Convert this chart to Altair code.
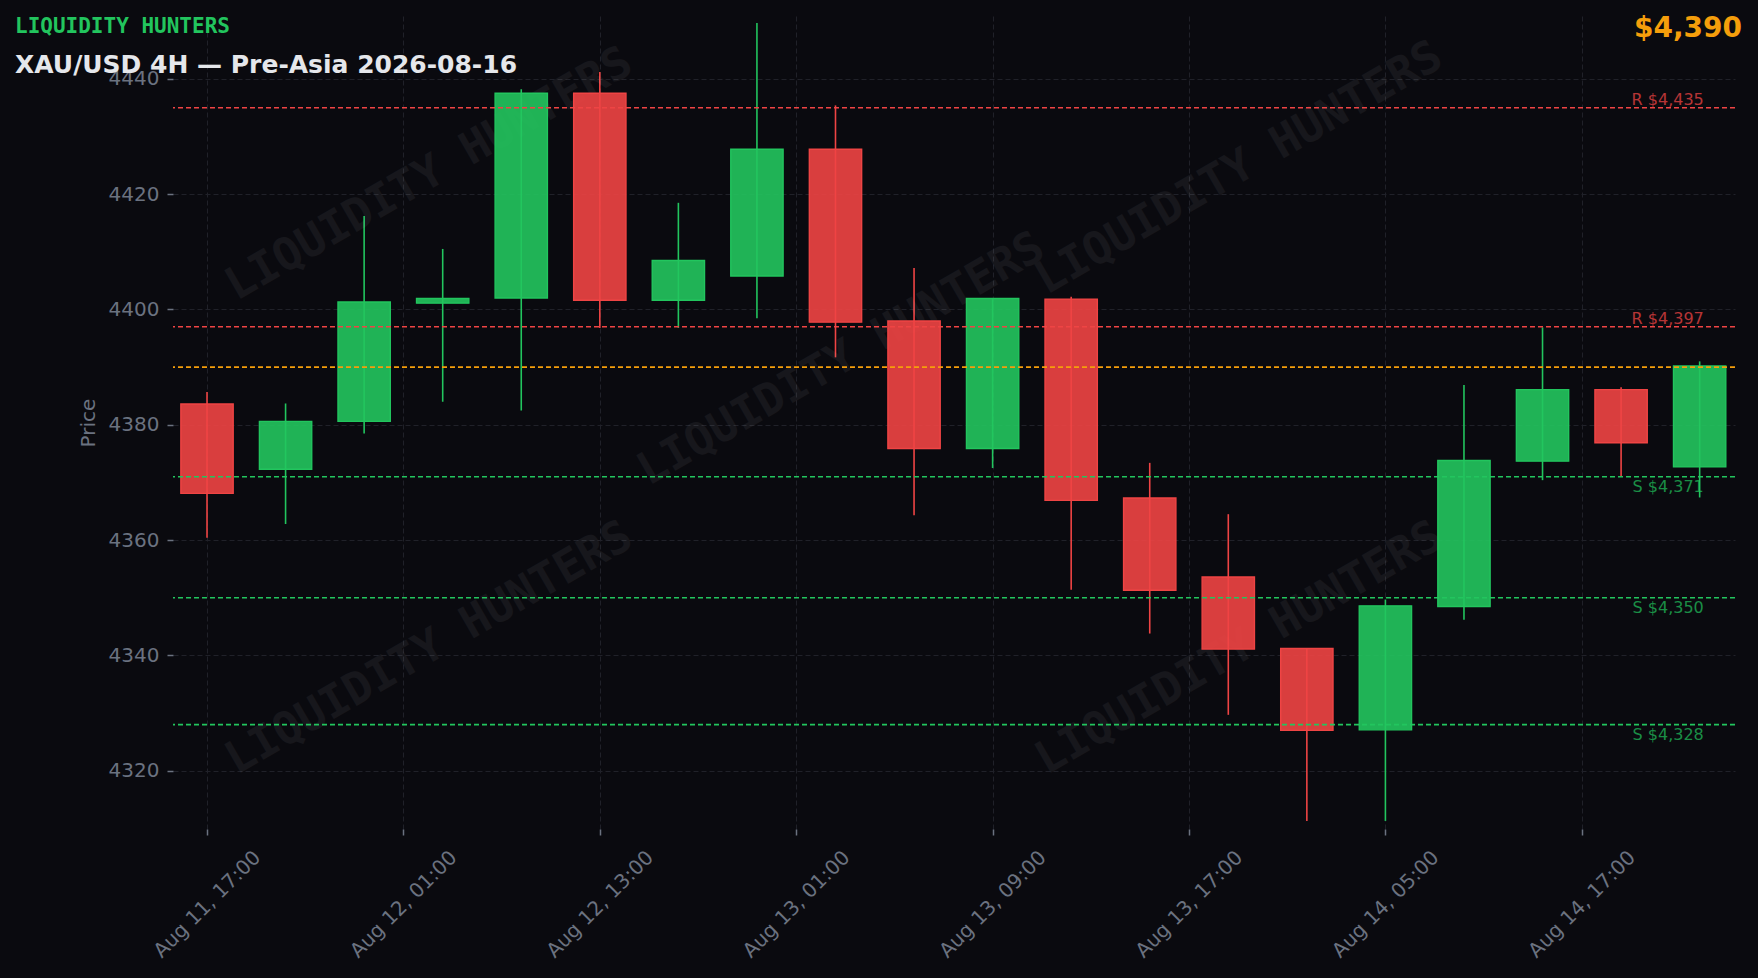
import json
import altair as alt
import jinja2
import pandas as pd

# ---------------- data ----------------
opens = [4383.6, 4372.3, 4380.6, 4401.1, 4402.0, 4437.5, 4401.6, 4405.8, 4427.8, 4398.0,
         4375.9, 4401.8, 4367.3, 4353.6, 4341.2, 4327.1, 4348.5, 4373.7, 4386.1, 4372.7]
highs = [4385.7, 4383.7, 4416.2, 4410.5, 4438.2, 4441.2, 4418.5, 4449.7, 4435.4, 4407.2,
         4402.0, 4402.2, 4373.4, 4364.5, 4341.3, 4349.7, 4386.9, 4396.9, 4386.5, 4391.0]
lows = [4360.4, 4362.8, 4378.5, 4384.0, 4382.5, 4396.8, 4396.8, 4398.5, 4391.7, 4364.3,
        4372.5, 4351.4, 4343.8, 4329.7, 4311.3, 4311.3, 4346.2, 4370.4, 4371.1, 4367.4]
closes = [4368.1, 4380.6, 4401.3, 4401.9, 4437.5, 4401.6, 4408.5, 4427.8, 4397.8, 4375.9,
          4401.9, 4366.9, 4351.3, 4341.1, 4327.0, 4348.6, 4373.8, 4386.1, 4376.9, 4390.2]

x_tick_pos = [0, 2.5, 5, 7.5, 10, 12.5, 15, 17.5]
x_tick_labels = ["Aug 11, 17:00", "Aug 12, 01:00", "Aug 12, 13:00", "Aug 13, 01:00",
                 "Aug 13, 09:00", "Aug 13, 17:00", "Aug 14, 05:00", "Aug 14, 17:00"]
y_ticks = [4320, 4340, 4360, 4380, 4400, 4420, 4440]

resistance = [4435, 4397]
support = [4371, 4350, 4328]
current_price = 4390

brand = "LIQUIDITY HUNTERS"
title = "XAU/USD 4H — Pre-Asia 2026-08-16"
price_text = "$4,390"

# ---------------- style ----------------
BG = "#0a0a0f"
GREEN = "#22c55e"
RED = "#ef4444"
ORANGE = "#f59e0b"
GRID = "#202129"
TICK = "#6b7280"
W, H = 1562, 813
X_DOMAIN = [-0.433, 19.45]
Y_DOMAIN = [4309.9, 4450.9]

n = len(opens)
df = pd.DataFrame({"i": list(range(n)), "open": opens, "high": highs,
                   "low": lows, "close": closes})
df["dir"] = ["up" if c >= o else "down" for o, c in zip(opens, closes)]

lv = pd.DataFrame({
    "level": resistance + support + [current_price],
    "kind": ["R"] * len(resistance) + ["S"] * len(support) + ["P"],
})
lv["label"] = [f"{k} ${v:,.0f}" for k, v in zip(lv["kind"], lv["level"])]

xscale = alt.Scale(domain=X_DOMAIN, nice=False, zero=False)
yscale = alt.Scale(domain=Y_DOMAIN, nice=False, zero=False)
label_expr = json.dumps(x_tick_labels) + "[round(datum.value / 2.5)]"

xaxis = alt.Axis(values=x_tick_pos, labelExpr=label_expr, labelAngle=315,
                 labelAlign="center", labelBaseline="middle", labelPadding=69,
                 labelOverlap=False, labelFlush=False, labelBound=False, title=None,
                 grid=True)
yaxis = alt.Axis(values=y_ticks, format="d", labelPadding=8, title="Price",
                 titlePadding=10, grid=True, labelOverlap=False)

col_scale = alt.Scale(domain=["up", "down"], range=[GREEN, RED])

base = alt.Chart(df)

wicks = base.mark_rule(strokeWidth=1.6).encode(
    x=alt.X("i:Q", scale=xscale, axis=xaxis, title=None),
    y=alt.Y("low:Q", scale=yscale, axis=yaxis, title="Price"),
    y2="high:Q",
    color=alt.Color("dir:N", scale=col_scale, legend=None),
)

bodies = base.transform_calculate(
    x0="datum.i - 0.333", x1="datum.i + 0.333"
).mark_bar(fillOpacity=0.9, strokeWidth=1.4).encode(
    x=alt.X("x0:Q", scale=xscale, title=None),
    x2="x1:Q",
    y=alt.Y("open:Q", scale=yscale, title="Price"),
    y2="close:Q",
    fill=alt.Fill("dir:N", scale=col_scale, legend=None),
    stroke=alt.Stroke("dir:N", scale=col_scale, legend=None),
)

lvb = alt.Chart(lv)
rules = []
for kind, col in [("R", RED), ("S", GREEN), ("P", ORANGE)]:
    rules.append(
        lvb.transform_filter(alt.datum.kind == kind)
        .mark_rule(color=col, strokeDash=[5, 3], strokeWidth=1.6, opacity=1)
        .encode(y=alt.Y("level:Q", scale=yscale, title="Price"))
    )

r_labels = lvb.transform_filter(alt.datum.kind == "R").mark_text(
    align="right", baseline="alphabetic", dy=-3, fontSize=16, color=RED, opacity=0.75
).encode(x=alt.value(0.98 * W), y=alt.Y("level:Q", scale=yscale, title="Price"),
         text="label:N")
s_labels = lvb.transform_filter(alt.datum.kind == "S").mark_text(
    align="right", baseline="top", dy=2, fontSize=16, color=GREEN, opacity=0.7
).encode(x=alt.value(0.98 * W), y=alt.Y("level:Q", scale=yscale, title="Price"),
         text="label:N")

# watermark
wm_layers = []
for (px, py) in [(256, 158), (668, 343), (1066, 152), (256, 632), (1066, 632)]:
    wm_layers.append(
        alt.Chart(pd.DataFrame({"t": [brand]})).mark_text(
            font="DejaVu Sans Mono", fontWeight="bold", fontSize=45, angle=330,
            color="#ffffff", opacity=0.05, align="center", baseline="middle"
        ).encode(x=alt.value(px), y=alt.value(py), text="t:N")
    )

brand_t = alt.Chart(pd.DataFrame({"t": [brand]})).mark_text(
    font="DejaVu Sans Mono", fontWeight="bold", fontSize=21, color=GREEN,
    align="left", baseline="alphabetic"
).encode(x=alt.value(-158), y=alt.value(17), text="t:N")

title_t = alt.Chart(pd.DataFrame({"t": [title]})).mark_text(
    font="DejaVu Sans", fontWeight="bold", fontSize=25, color="#e5e7eb",
    align="left", baseline="alphabetic"
).encode(x=alt.value(-158), y=alt.value(56.7), text="t:N")

price_t = alt.Chart(pd.DataFrame({"t": [price_text]})).mark_text(
    font="DejaVu Sans", fontWeight="bold", fontSize=28, color=ORANGE,
    align="right", baseline="alphabetic"
).encode(x=alt.value(1569), y=alt.value(20.7), text="t:N")

chart = alt.layer(
    wicks, *wm_layers, bodies, *rules, r_labels, s_labels, brand_t, title_t, price_t
).properties(
    width=W, height=H,
    autosize=alt.AutoSizeParams(type="none"),
    padding={"left": 165, "top": 8, "right": 14, "bottom": 140},
).configure(
    background=BG, font="DejaVu Sans"
).configure_view(
    stroke=None
).configure_axis(
    gridColor=GRID, gridDash=[5, 3], gridWidth=1, domain=False,
    tickColor=TICK, tickSize=6, tickWidth=1.5, labelColor=TICK, labelFontSize=20,
    labelFont="DejaVu Sans", titleColor=TICK, titleFontSize=20,
    titleFontWeight="normal", titleFont="DejaVu Sans"
)

# same as Altair's standard page, with the page background matched to the chart
PAGE = jinja2.Template("""<!DOCTYPE html>
<html>
<head>
  <style>
    html, body { background: """ + BG + """; }
    #{{ output_div }}.vega-embed {
      width: 100%;
      display: flex;
    }
    #{{ output_div }}.vega-embed details,
    #{{ output_div }}.vega-embed details summary {
      position: relative;
    }
  </style>
  <script type="text/javascript" src="{{ base_url }}/vega@{{ vega_version }}"></script>
  <script type="text/javascript" src="{{ base_url }}/vega-lite@{{ vegalite_version }}"></script>
  <script type="text/javascript" src="{{ base_url }}/vega-embed@{{ vegaembed_version }}"></script>
</head>
<body>
  <div id="{{ output_div }}"></div>
  <script>
    (function(vegaEmbed) {
      var spec = {{ spec }};
      var embedOpt = {{ embed_options }};
      function showError(el, error){
          el.innerHTML = ('<div style="color:red;"><p>JavaScript Error: ' + error.message + '</p></div>');
          throw error;
      }
      const el = document.getElementById('{{ output_div }}');
      vegaEmbed("#{{ output_div }}", spec, embedOpt)
        .catch(error => showError(el, error));
    })(vegaEmbed);
  </script>
</body>
</html>
""")

chart.save("out.html", embed_options={"renderer": "svg", "actions": False},
           template=PAGE)
